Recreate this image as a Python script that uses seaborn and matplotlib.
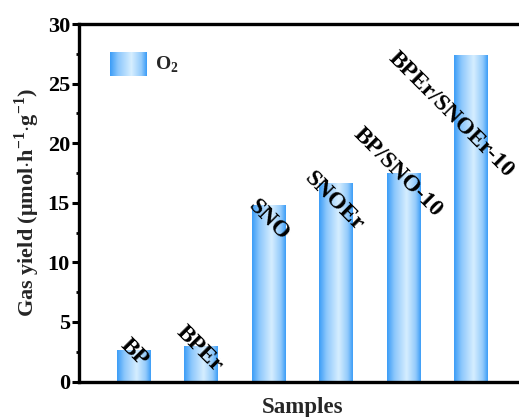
import numpy as np
import pandas as pd
import matplotlib
matplotlib.use("Agg")
import matplotlib.pyplot as plt
import seaborn as sns
from matplotlib.colors import LinearSegmentedColormap
from matplotlib.legend_handler import HandlerBase
from matplotlib.image import BboxImage
from matplotlib.transforms import Bbox, TransformedBbox
from matplotlib.patches import Rectangle

# ---- data ----
samples = ["BP", "BPEr", "SNO", "SNOEr", "BP/SNO-10", "BPEr/SNOEr-10"]
o2_yield = [2.6, 2.9, 14.7, 16.6, 17.4, 27.3]
y_ticks = [0, 5, 10, 15, 20, 25, 30]

# label centre offsets in pixels (dx right, dy down) relative to bar top centre
label_offsets_px = [(0, 2), (-2, 2), (0, 14), (-2, 18), (-6, -2), (-20, 58)]

df = pd.DataFrame({"Samples": samples, "Gas yield": o2_yield})

sns.set_theme(style="ticks")
plt.rcParams["font.family"] = ["Liberation Serif", "DejaVu Serif"]
plt.rcParams["font.weight"] = "bold"
plt.rcParams["mathtext.fontset"] = "custom"
plt.rcParams["mathtext.rm"] = "Liberation Serif:bold"
plt.rcParams["mathtext.bf"] = "Liberation Serif:bold"

W, H = 519, 417
fig = plt.figure(figsize=(W / 100, H / 100), dpi=100)
ax = fig.add_axes([79 / W, 35.5 / H, 447 / W, 357.5 / H])

sns.barplot(data=df, x="Samples", y="Gas yield", width=0.5, ax=ax,
            color="#4aa3f5", edgecolor="none", linewidth=0)

cmap = LinearSegmentedColormap.from_list(
    "cyl", [(0.0, "#3a9cf7"), (0.22, "#8cc7fc"), (0.58, "#d6eeff"),
            (0.85, "#92cafb"), (1.0, "#3a9cf7")])
grad = np.linspace(0, 1, 256).reshape(1, -1)

ax.set_xlim(-0.81, 5.81)
ax.set_ylim(0, 30)

for p in list(ax.patches):
    x0, y0, w, h = p.get_x(), p.get_y(), p.get_width(), p.get_height()
    p.set_facecolor("none")
    ax.imshow(grad, cmap=cmap, extent=(x0, x0 + w, y0, y0 + h),
              aspect="auto", interpolation="bicubic", zorder=2)
ax.set_xlim(-0.81, 5.81)
ax.set_ylim(0, 30)

# labels on bars
for i, (name, val) in enumerate(zip(samples, o2_yield)):
    dx, dy = label_offsets_px[i]
    ax.annotate(name, xy=(i, val), xytext=(dx * 0.72, -dy * 0.72),
                textcoords="offset points", rotation=-45,
                ha="center", va="center", rotation_mode="anchor",
                fontsize=17, fontweight="bold", color="black", zorder=5)

# axes styling
for side in ["left", "bottom", "top", "right"]:
    ax.spines[side].set_linewidth(2.4)
    ax.spines[side].set_color("black")
ax.set_yticks(y_ticks)
ax.set_yticks(np.arange(2.5, 30, 5), minor=True)
ax.tick_params(axis="y", which="major", direction="out", length=5, width=2.2,
               labelsize=16, pad=1.5, colors="black")
ax.tick_params(axis="y", which="minor", direction="out", length=2.5, width=2.0,
               colors="black")
ax.tick_params(axis="x", which="both", bottom=False, labelbottom=False)
for lab in ax.get_yticklabels():
    lab.set_fontweight("bold")

ax.set_xlabel("Samples", fontsize=16.5, fontweight="bold", labelpad=11)
ax.set_ylabel(r"Gas yield ($\mathbf{\mu}$mol$\cdot$h$^{-1}$$\cdot$g$^{-1}$)",
              fontsize=16, fontweight="bold", labelpad=4)


class GradientHandler(HandlerBase):
    def create_artists(self, legend, orig_handle, xdescent, ydescent,
                       width, height, fontsize, trans):
        bb = TransformedBbox(Bbox.from_bounds(-xdescent, -ydescent, width, height), trans)
        img = BboxImage(bb, cmap=cmap, interpolation="bicubic")
        img.set_data(grad)
        return [img]


handle = Rectangle((0, 0), 1, 1)
leg = ax.legend([handle], [r"O$_2$"], handler_map={Rectangle: GradientHandler()},
                loc="upper left", bbox_to_anchor=(0.069, 0.922), frameon=False,
                borderpad=0, borderaxespad=0,
                handlelength=1.9, handleheight=1.5, handletextpad=0.4,
                prop={"size": 14, "weight": "bold"})

fig.savefig("out.png", dpi=100)
